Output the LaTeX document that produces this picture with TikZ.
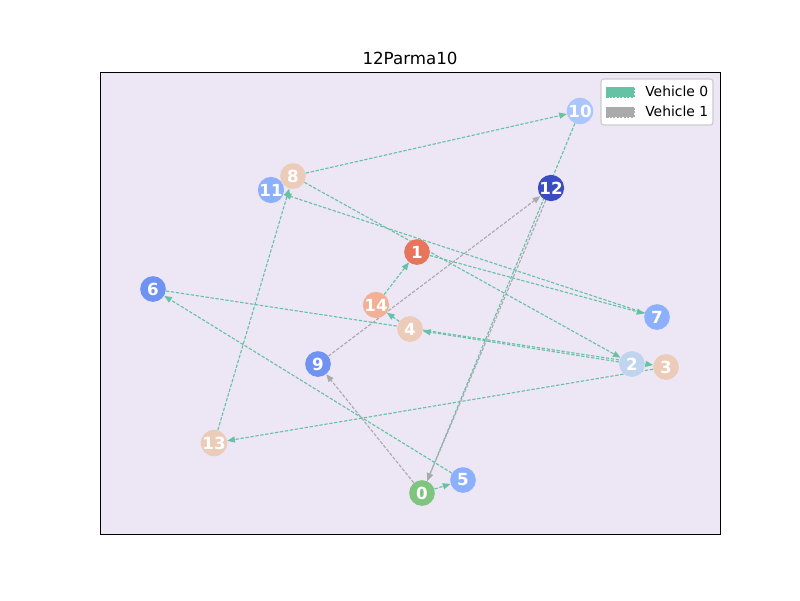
\documentclass[tikz,border=0pt]{standalone}
\usepackage{fontspec}
\setmainfont{DejaVu Sans}
\usetikzlibrary{arrows.meta}
\definecolor{axbg}{RGB}{236,230,245}
\definecolor{veh0}{RGB}{102,194,165}
\definecolor{veh1}{RGB}{170,170,170}
\definecolor{legline}{RGB}{204,204,204}
\definecolor{cgreen}{RGB}{127,196,127}
\definecolor{cred}{RGB}{231,116,91}
\definecolor{csalmon}{RGB}{244,176,150}
\definecolor{cpeach}{RGB}{236,203,184}
\definecolor{cpale}{RGB}{192,212,240}
\definecolor{clight}{RGB}{170,198,253}
\definecolor{cblue}{RGB}{141,176,254}
\definecolor{cmid}{RGB}{111,146,243}
\definecolor{cdark}{RGB}{59,76,192}
\tikzstyle{stop} = [circle,draw=none,inner sep=0,minimum size=18.5pt,text=white,font=\fontsize{12}{14}\selectfont\bfseries]
\tikzstyle{route0} = [veh0,line width=0.8pt,dash pattern=on 2.4pt off 1.2pt,-{Triangle[length=5.5pt,width=4.4pt]}]
\tikzstyle{route1} = [veh1,line width=0.8pt,dash pattern=on 2.4pt off 1.2pt,-{Triangle[length=5.5pt,width=4.4pt]}]
\tikzstyle{legtext} = [anchor=west,inner sep=0,font=\fontsize{10}{12}\selectfont]
\pgfdeclarelayer{back}
\pgfdeclarelayer{edges}
\pgfsetlayers{back,edges,main}

\begin{document}
\begin{tikzpicture}[x=0.72pt,y=-0.72pt]
  \useasboundingbox (0,0) rectangle (800,600);
  \begin{pgfonlayer}{back}
    \fill[axbg] (100,72) rectangle (720,534);
  \end{pgfonlayer}
  \draw[line width=0.7pt] (100,72) rectangle (720,534);
  \node[font=\fontsize{12}{14}\selectfont] (title) at (410,58) {12Parma10};

  % customers
  \node[stop,fill=cgreen] (n0) at (422,493) {0};
  \node[stop,fill=cred] (n1) at (417,252) {1};
  \node[stop,fill=cpale] (n2) at (632,364) {2};
  \node[stop,fill=cpeach] (n3) at (666,367) {3};
  \node[stop,fill=cpeach] (n4) at (410,329) {4};
  \node[stop,fill=cblue] (n5) at (463,480) {5};
  \node[stop,fill=cmid] (n6) at (153,289) {6};
  \node[stop,fill=cblue] (n7) at (657,317) {7};
  \node[stop,fill=cpeach] (n8) at (293,176) {8};
  \node[stop,fill=cmid] (n9) at (318,364) {9};
  \node[stop,fill=clight] (n10) at (580,111) {10};
  \node[stop,fill=cblue] (n11) at (271,190) {11};
  \node[stop,fill=cdark] (n12) at (551,188) {12};
  \node[stop,fill=cpeach] (n13) at (214,443) {13};
  \node[stop,fill=csalmon] (n14) at (376,305) {14};

  \begin{pgfonlayer}{edges}
    \draw[route0] (n0) -- (n5);
    \draw[route0] (n5) -- (n6);
    \draw[route0] (n6) -- (n3);
    \draw[route0] (n2) -- (n4);
    \draw[route0] (n3) -- (n13);
    \draw[route0] (n13) -- (n8);
    \draw[route0] (n7) -- (n11);
    \draw[route0] (n1) -- (n7);
    \draw[route0] (n8) -- (n2);
    \draw[route0] (n8) -- (n10);
    \draw[route0] (n14) -- (n1);
    \draw[route0] (n4) -- (n14);
    \draw[route0] (n10) -- (n0);
    \draw[route1] (n0) -- (n9);
    \draw[route1] (n9) -- (n12);
    \draw[route1] (n12) -- (n0);
  \end{pgfonlayer}

  % legend
  \draw[legline,fill=white,rounded corners=2pt,line width=0.8pt] (601,79) rectangle (713,125);
  \draw[veh0,fill=veh0,dash pattern=on 1.5pt off 1pt] (606,87) rectangle (634,97);
  \draw[veh1,fill=veh1,dash pattern=on 1.5pt off 1pt] (606,107) rectangle (634,117);
  \node[legtext] (leg0) at (645,91) {Vehicle 0};
  \node[legtext] (leg1) at (645,111) {Vehicle 1};
\end{tikzpicture}
\end{document}
